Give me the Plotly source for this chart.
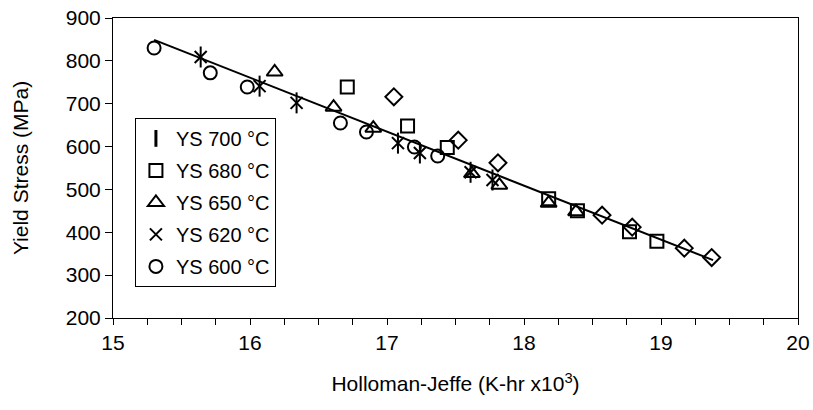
import plotly.graph_objects as go

# Data
ys600_x = [15.30, 15.71, 15.98, 16.66, 16.85, 17.20, 17.37]
ys600_y = [830, 772, 739, 655, 634, 599, 578]

ys620_x = [15.64, 16.07, 16.34, 17.08, 17.24, 17.61, 17.77]
ys620_y = [809, 741, 702, 608, 585, 540, 522]

ys650_x = [16.18, 16.61, 16.90, 17.62, 17.82, 18.18, 18.38]
ys650_y = [774, 692, 643, 537, 510, 468, 448]

ys680_x = [16.71, 17.15, 17.44, 18.18, 18.39, 18.77, 18.97]
ys680_y = [739, 648, 598, 478, 450, 401, 379]

ys700_x = [17.05, 17.52, 17.81, 18.57, 18.79, 19.17, 19.37]
ys700_y = [716, 615, 562, 440, 412, 363, 341]

fit_x = [15.30, 19.38]
fit_y = [849, 335]

FONT = "Liberation Sans, Arial, sans-serif"
MS = 13
LW = 2

fig = go.Figure()

# trend line
fig.add_trace(go.Scatter(x=fit_x, y=fit_y, mode="lines",
                         line=dict(color="black", width=2), showlegend=False))

def mk(symbol, size=MS, lw=LW):
    return dict(symbol=symbol, size=size, color="black",
                line=dict(color="black", width=lw))

# YS 700 legend entry (shown as a thin bar in the reference legend)
fig.add_trace(go.Scatter(x=[None], y=[None], mode="markers", name="YS 700 °C",
                         legendgroup="g700", marker=mk("line-ns-open", 12, 3)))
fig.add_trace(go.Scatter(x=ys700_x, y=ys700_y, mode="markers", name="YS 700 °C",
                         legendgroup="g700", marker=mk("diamond-open", 13),
                         showlegend=False))
fig.add_trace(go.Scatter(x=ys680_x, y=ys680_y, mode="markers", name="YS 680 °C",
                         legendgroup="g680", marker=mk("square-open", 13)))
fig.add_trace(go.Scatter(x=ys650_x, y=ys650_y, mode="markers", name="YS 650 °C",
                         legendgroup="g650", marker=mk("triangle-up-open", 14)))
fig.add_trace(go.Scatter(x=ys620_x, y=ys620_y, mode="markers", name="YS 620 °C",
                         legendgroup="g620", marker=mk("x-thin-open", 12)))
fig.add_trace(go.Scatter(x=ys620_x, y=ys620_y, mode="markers", name="YS 620 °C",
                         legendgroup="g620", marker=mk("line-ns-open", 15),
                         showlegend=False))
fig.add_trace(go.Scatter(x=ys600_x, y=ys600_y, mode="markers", name="YS 600 °C",
                         legendgroup="g600", marker=mk("circle-open", 13)))

fig.update_layout(
    width=813, height=410,
    margin=dict(l=113, r=15, t=18, b=92),
    paper_bgcolor="white", plot_bgcolor="white",
    font=dict(family=FONT, color="black", size=21),
    legend=dict(x=0.032, y=0.667, xanchor="left", yanchor="top",
                bordercolor="black", borderwidth=1, bgcolor="white",
                font=dict(size=20, family=FONT), traceorder="grouped",
                tracegroupgap=3, itemwidth=30),
    xaxis=dict(range=[15, 20], dtick=1, tick0=15, showgrid=False, zeroline=False,
               showline=True, linecolor="black", linewidth=1, mirror=True,
               ticks="outside", ticklen=6, tickcolor="black",
               minor=dict(dtick=0.25, ticks="outside", ticklen=6, tickcolor="black"),
               tickfont=dict(size=21, family=FONT),
               title=dict(text="Holloman-Jeffe (K-hr x10<sup>3</sup>)",
                          font=dict(size=21, family=FONT), standoff=23),
               automargin=False),
    yaxis=dict(range=[200, 900], dtick=100, showgrid=False, zeroline=False,
               showline=True, linecolor="black", linewidth=1, mirror=True,
               ticks="outside", ticklen=7, tickcolor="black",
               tickfont=dict(size=21, family=FONT),
               title=dict(text="Yield Stress (MPa)",
                          font=dict(size=21, family=FONT), standoff=31),
               automargin=False),
    xaxis2=dict(range=[15, 20], dtick=1, tick0=15, overlaying="x", anchor="y",
                showgrid=False, zeroline=False, showline=False,
                ticks="inside", ticklen=6, tickcolor="black",
                showticklabels=False),
    yaxis2=dict(range=[200, 900], dtick=100, overlaying="y", anchor="x",
                showgrid=False, zeroline=False, showline=False,
                ticks="inside", ticklen=6, tickcolor="black",
                showticklabels=False),
)

fig.write_html("out.html", config={"displayModeBar": False},
               post_script="document.body.style.margin='0';")
